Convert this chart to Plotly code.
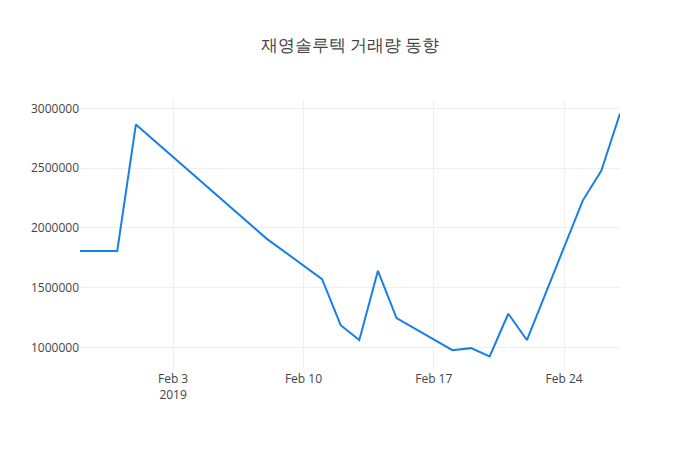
import plotly.graph_objects as go

# 거래일 (Korean trading days, Jan 29 - Feb 27 2019)
dates = ['2019-01-29', '2019-01-31', '2019-02-01', '2019-02-08',
         '2019-02-11', '2019-02-12', '2019-02-13', '2019-02-14', '2019-02-15',
         '2019-02-18', '2019-02-19', '2019-02-20', '2019-02-21', '2019-02-22',
         '2019-02-25', '2019-02-26', '2019-02-27']
volume = [1807000, 1807000, 2865000, 1913000,
          1572000, 1186000, 1062000, 1641000, 1246000,
          977000, 994000, 924000, 1282000, 1062000,
          2229000, 2481000, 2958000]

fig = go.Figure()
fig.add_trace(go.Scatter(x=dates, y=volume, mode='lines',
                         line=dict(color='#1780e8', width=2)))

# page body adds 8px offset, so margins are shifted to compensate
fig.update_layout(template='none', width=700, height=450,
                  title=dict(text='재영솔루텍 거래량 동향', x=0.4886, xanchor='center',
                             y=0.918, yanchor='middle',
                             font=dict(size=17, color='#444')),
                  font=dict(family='"Open Sans", verdana, arial, sans-serif',
                            size=12, color='#444'),
                  margin=dict(l=72, r=88, t=92, b=88),
                  paper_bgcolor='white', plot_bgcolor='white',
                  showlegend=False)
fig.update_xaxes(gridcolor='#eee', showline=False, ticks='', zeroline=False)
fig.update_yaxes(gridcolor='#eee', showline=False, ticks='', zeroline=False,
                 tickformat='d')

fig.write_html("out.html")
